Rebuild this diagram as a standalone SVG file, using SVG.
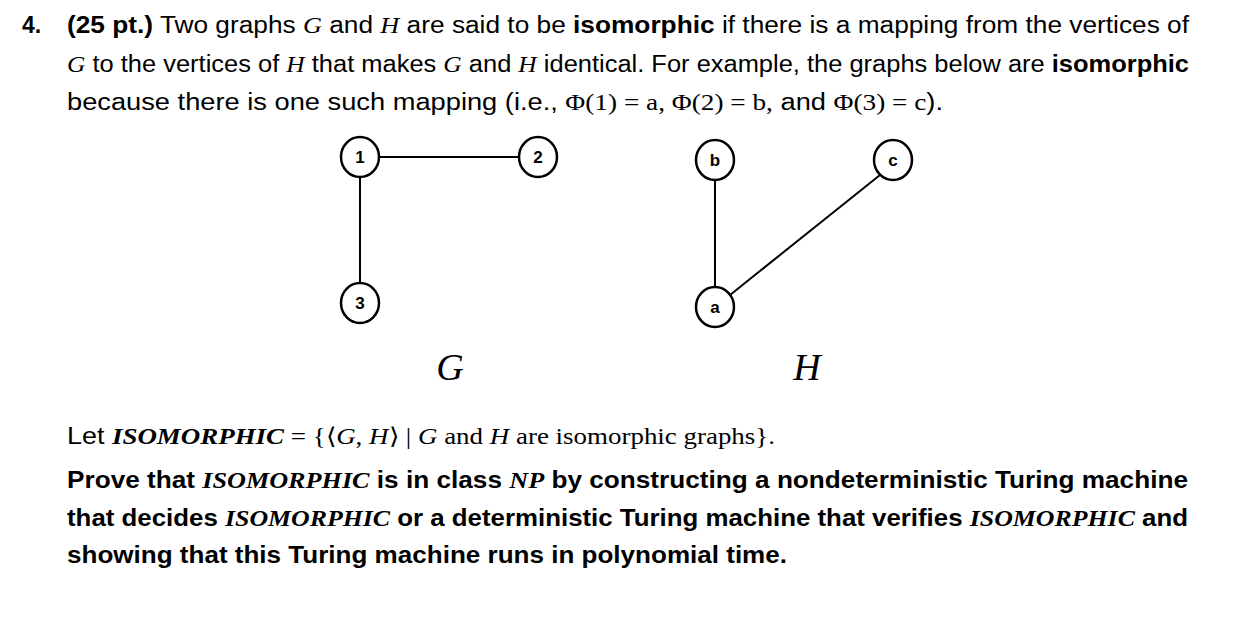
<svg xmlns="http://www.w3.org/2000/svg" width="1249" height="621" viewBox="0 0 1249 621">
<style>
.t{font-family:"Liberation Sans",Arial,sans-serif;font-size:23px;fill:#000}
.m{font-family:"Liberation Serif","Times New Roman",serif;font-style:italic}
.r{font-family:"Liberation Serif","Times New Roman",serif}
.n{fill:#fff;stroke:#000;stroke-width:2.5}
.nl{font-family:"Liberation Sans",Arial,sans-serif;font-size:17px;font-weight:bold;text-anchor:middle}
.e{stroke:#000;stroke-width:2}
.big{font-family:"Liberation Serif","Times New Roman",serif;font-style:italic;font-size:38px;text-anchor:middle}
</style>
<rect width="1249" height="621" fill="#fff"/>
<text class="t" x="22" y="33"><tspan font-weight="bold">4.</tspan></text>
<text class="t" x="67" y="33" textLength="1122" lengthAdjust="spacingAndGlyphs"><tspan font-weight="bold">(25 pt.)</tspan> Two graphs <tspan class="m">G</tspan> and <tspan class="m">H</tspan> are said to be <tspan font-weight="bold">isomorphic</tspan> if there is a mapping from the vertices of</text>
<text class="t" x="67" y="72" textLength="1122" lengthAdjust="spacingAndGlyphs"><tspan class="m">G</tspan> to the vertices of <tspan class="m">H</tspan> that makes <tspan class="m">G</tspan> and <tspan class="m">H</tspan> identical. For example, the graphs below are <tspan font-weight="bold">isomorphic</tspan></text>
<text class="t" x="67" y="110" textLength="876" lengthAdjust="spacingAndGlyphs">because there is one such mapping (i.e., <tspan class="r">Φ(1) = a, Φ(2) = b,</tspan> and <tspan class="r">Φ(3) = c</tspan>).</text>
<g id="edges">
<line class="e" x1="378" y1="157" x2="520" y2="157"/>
<line class="e" x1="360" y1="177" x2="360" y2="283"/>
<line class="e" x1="715" y1="180" x2="715" y2="287"/>
<line class="e" x1="730" y1="295" x2="880" y2="175"/>
</g>
<g id="n1"><ellipse class="n" cx="360" cy="157" rx="19" ry="20"/><text class="nl" x="360" y="163">1</text></g>
<g id="n2"><ellipse class="n" cx="538" cy="157" rx="19" ry="20"/><text class="nl" x="538" y="163">2</text></g>
<g id="n3"><ellipse class="n" cx="360" cy="303" rx="19" ry="20"/><text class="nl" x="360" y="309">3</text></g>
<g id="nb"><ellipse class="n" cx="715" cy="160" rx="19" ry="20"/><text class="nl" x="715" y="166">b</text></g>
<g id="nc"><ellipse class="n" cx="893" cy="160" rx="19" ry="20"/><text class="nl" x="893" y="166">c</text></g>
<g id="na"><ellipse class="n" cx="715" cy="307" rx="19" ry="20"/><text class="nl" x="715" y="313">a</text></g>
<text class="big" x="450" y="380">G</text>
<text class="big" x="807" y="380">H</text>
<text class="t" x="67" y="444" textLength="708" lengthAdjust="spacingAndGlyphs">Let <tspan class="m" font-weight="bold">ISOMORPHIC</tspan><tspan class="r"> = {⟨</tspan><tspan class="m">G</tspan><tspan class="r">, </tspan><tspan class="m">H</tspan><tspan class="r">⟩ | </tspan><tspan class="m">G</tspan><tspan class="r"> and </tspan><tspan class="m">H</tspan><tspan class="r"> are isomorphic graphs}.</tspan></text>
<g font-weight="bold">
<text class="t" x="67" y="488" textLength="1121" lengthAdjust="spacingAndGlyphs">Prove that <tspan class="m">ISOMORPHIC</tspan> is in class <tspan class="m">NP</tspan> by constructing a nondeterministic Turing machine</text>
<text class="t" x="67" y="526" textLength="1121" lengthAdjust="spacingAndGlyphs">that decides <tspan class="m">ISOMORPHIC</tspan> or a deterministic Turing machine that verifies <tspan class="m">ISOMORPHIC</tspan> and</text>
<text class="t" x="67" y="563" textLength="720" lengthAdjust="spacingAndGlyphs">showing that this Turing machine runs in polynomial time.</text>
</g>
</svg>
